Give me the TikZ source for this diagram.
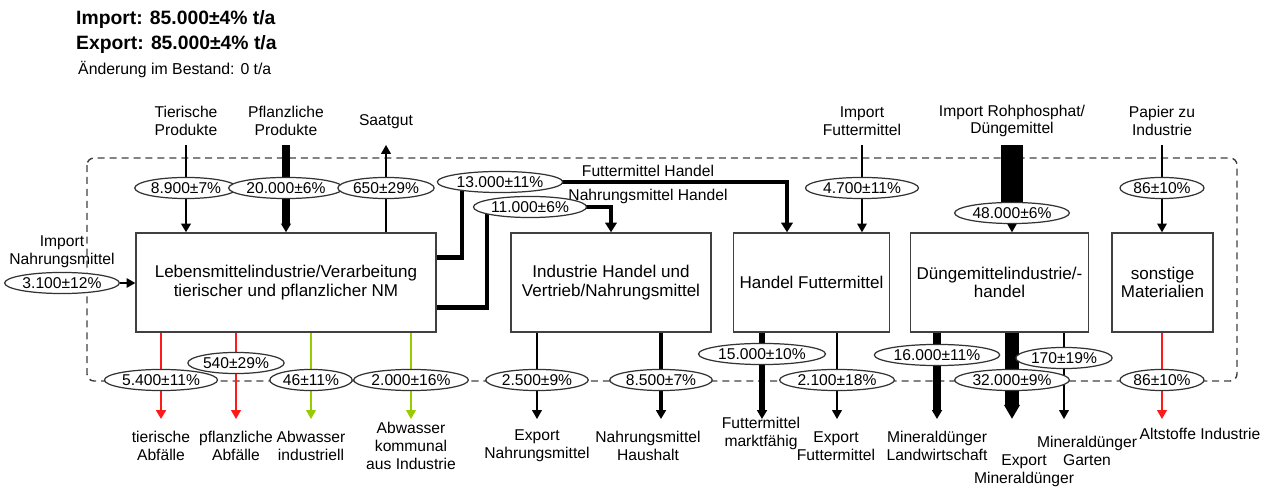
\documentclass[tikz,border=0pt]{standalone}
\usepackage{fontspec}
\setmainfont{Liberation Sans}
\usetikzlibrary{arrows.meta, positioning, shapes.geometric, backgrounds, calc}
\definecolor{abfallrot}{HTML}{FF1A1A}
\definecolor{abwgruen}{HTML}{99CC00}
\newcommand\boxfont{\fontsize{9.7}{10.6}\selectfont}
\newcommand\lblfont{\fontsize{8.9}{10.2}\selectfont}

\begin{document}
\begin{tikzpicture}[
  x=0.02cm, y=-0.02cm,
  box/.style={rectangle, draw=black!75, line width=0.8pt, fill=white,
    minimum height=1.98cm, align=center, font=\boxfont},
  wert/.style={ellipse, draw=black!80, line width=0.7pt, fill=white,
    inner xsep=0.6pt, inner ysep=0pt, minimum height=12pt, font=\lblfont},
  lbl/.style={align=center, font=\lblfont, inner sep=0pt},
  pfeil/.style={-{Triangle[length=5pt,width=5.5pt]}, line width=0.7pt},
  dick/.style={-{Triangle[length=5.5pt,width=6.5pt]}, line width=2.6pt},
  rahmen/.style={dash pattern=on 4pt off 2.8pt, draw=black!75,
    line width=0.8pt, rounded corners=4pt}
]
  \useasboundingbox (0,0) rectangle (1269,489);

  % Bilanz
  \node[anchor=west, font=\fontsize{11}{13}\selectfont\bfseries] (imp) at (70,20) {Import: 85.000±4\% t/a};
  \node[anchor=west, font=\fontsize{11}{13}\selectfont\bfseries] (exp) at (70,45) {Export: 85.000±4\% t/a};
  \node[anchor=west, font=\fontsize{9}{11}\selectfont] (bst) at (72,70) {Änderung im Bestand: 0 t/a};

  % Prozesse
  \node[box, minimum width=6cm] (lmi) at (286,282.5)
    {Lebensmittelindustrie/Verarbeitung\\tierischer und pflanzlicher NM};
  \node[box, minimum width=4cm] (ihv) at (611,282.5)
    {Industrie Handel und\\Vertrieb/Nahrungsmittel};
  \node[box, minimum width=3.02cm] (hfm) at (811.5,282.5) {Handel Futtermittel};
  \node[box, minimum width=3.54cm] (dmi) at (999.5,282.5) {Düngemittelindustrie/-\\handel};
  \node[box, minimum width=2.02cm] (som) at (1162.5,282.5) {sonstige\\Materialien};

  \coordinate (oben) at (0,145);
  \coordinate (unten) at (0,419);

  % Zuflüsse
  \node[lbl] (tp) at (186,121) {Tierische\\Produkte};
  \node[lbl] (pp) at (286,121) {Pflanzliche\\Produkte};
  \node[lbl] (sg) at (386,122) {Saatgut};
  \node[lbl] (inm) at (62,252) {Import\\Nahrungsmittel};
  \node[lbl] (ifm) at (862,121) {Import\\Futtermittel};
  \node[lbl] (irp) at (1012,121) {Import Rohphosphat/\\Düngemittel};
  \node[lbl] (pzi) at (1162,121) {Papier zu\\Industrie};
  \node[lbl] (fhl) at (648,171) {Futtermittel Handel};
  \node[lbl] (nhl) at (648,196) {Nahrungsmittel Handel};

  \node[wert] (w-tp) at (186,188) {8.900±7\%};
  \node[wert] (w-pp) at (286,188) {20.000±6\%};
  \node[wert] (w-sg) at (386,188) {650±29\%};
  \node[wert] (w-inm) at (62,283) {3.100±12\%};
  \node[wert] (w-fh) at (500,182) {13.000±11\%};
  \node[wert] (w-nh) at (530,207) {11.000±6\%};
  \node[wert] (w-ifm) at (862,188) {4.700±11\%};
  \node[wert] (w-irp) at (1012,213) {48.000±6\%};
  \node[wert] (w-pzi) at (1162,188) {86±10\%};

  % Abflüsse
  \node[lbl] (ta) at (161,446) {tierische\\Abfälle};
  \node[lbl] (pa) at (236,446) {pflanzliche\\Abfälle};
  \node[lbl] (ai) at (311,446) {Abwasser\\industriell};
  \node[lbl] (ak) at (411,446) {Abwasser\\kommunal\\aus Industrie};
  \node[lbl] (en) at (537,446) {Export\\Nahrungsmittel};
  \node[lbl] (nh) at (648,446) {Nahrungsmittel\\Haushalt};
  \node[lbl] (fm) at (761,433) {Futtermittel\\marktfähig};
  \node[lbl] (ef) at (836,446) {Export\\Futtermittel};
  \node[lbl] (ml) at (937,446) {Mineraldünger\\Landwirtschaft};
  \node[lbl] (em) at (1024,471) {Export\\Mineraldünger};
  \node[lbl] (mg) at (1087,451) {Mineraldünger\\Garten};
  \node[lbl] (al) at (1200,434) {Altstoffe Industrie};

  \node[wert] (w-ta) at (161,380) {5.400±11\%};
  \node[wert] (w-pa) at (236,363) {540±29\%};
  \node[wert] (w-ai) at (311,380) {46±11\%};
  \node[wert] (w-ak) at (411,380) {2.000±16\%};
  \node[wert] (w-en) at (537,380) {2.500±9\%};
  \node[wert] (w-nh2) at (661,380) {8.500±7\%};
  \node[wert] (w-fm) at (762,354) {15.000±10\%};
  \node[wert] (w-ef) at (837,380) {2.100±18\%};
  \node[wert] (w-ml) at (937,355) {16.000±11\%};
  \node[wert] (w-mg) at (1064,358) {170±19\%};
  \node[wert] (w-em) at (1012,380) {32.000±9\%};
  \node[wert] (w-al) at (1162,380) {86±10\%};

  \begin{scope}[on background layer]
    % Systemgrenze
    \draw[rahmen] (87,158) rectangle (1237,381);

    % oben
    \draw[pfeil, line width=1.7pt] (tp |- oben) -- (tp |- lmi.north);
    \draw[pfeil, line width=4.5pt] (pp |- oben) -- (pp |- lmi.north);
    \draw[pfeil] (sg |- lmi.north) -- (sg |- oben);
    \draw[pfeil] (w-inm) -- (w-inm -| lmi.west);
    \draw[pfeil] (ifm |- oben) -- (ifm |- hfm.north);
    \draw[line width=13pt] (irp |- oben) -- (w-irp);
    \draw[pfeil] (w-irp.south) -- (w-irp.south |- dmi.north);
    \draw[pfeil] (pzi |- oben) -- (pzi |- som.north);

    % Handel
    \draw[dick] ($(lmi.north east)!0.25!(lmi.south east)$) -| (462,182)
      -| ([xshift=-0.49cm]hfm.north);
    \draw[dick] ($(lmi.north east)!0.75!(lmi.south east)$) -| (487,207)
      -| (ihv.north);

    % unten
    \draw[pfeil, abfallrot, line width=1.7pt] (w-ta |- lmi.south) -- (w-ta |- unten);
    \draw[pfeil, abfallrot] (w-pa |- lmi.south) -- (w-pa |- unten);
    \draw[pfeil, abwgruen] (w-ai |- lmi.south) -- (w-ai |- unten);
    \draw[pfeil, abwgruen] (w-ak |- lmi.south) -- (w-ak |- unten);
    \draw[pfeil] (w-en |- ihv.south) -- (w-en |- unten);
    \draw[pfeil, line width=2pt] (w-nh2 |- ihv.south) -- (w-nh2 |- unten);
    \draw[pfeil, line width=3.4pt] (w-fm |- hfm.south) -- (w-fm |- unten);
    \draw[pfeil] (w-ef |- hfm.south) -- (w-ef |- unten);
    \draw[pfeil, line width=4.2pt] (w-ml |- dmi.south) -- (w-ml |- unten);
    \draw[line width=8.5pt, -{Triangle[length=8pt,width=8.5pt]}] (w-em |- dmi.south) -- (w-em |- unten);
    \draw[pfeil] (w-mg |- dmi.south) -- (w-mg |- unten);
    \draw[pfeil, abfallrot] (w-al |- som.south) -- (w-al |- unten);
  \end{scope}
\end{tikzpicture}
\end{document}
